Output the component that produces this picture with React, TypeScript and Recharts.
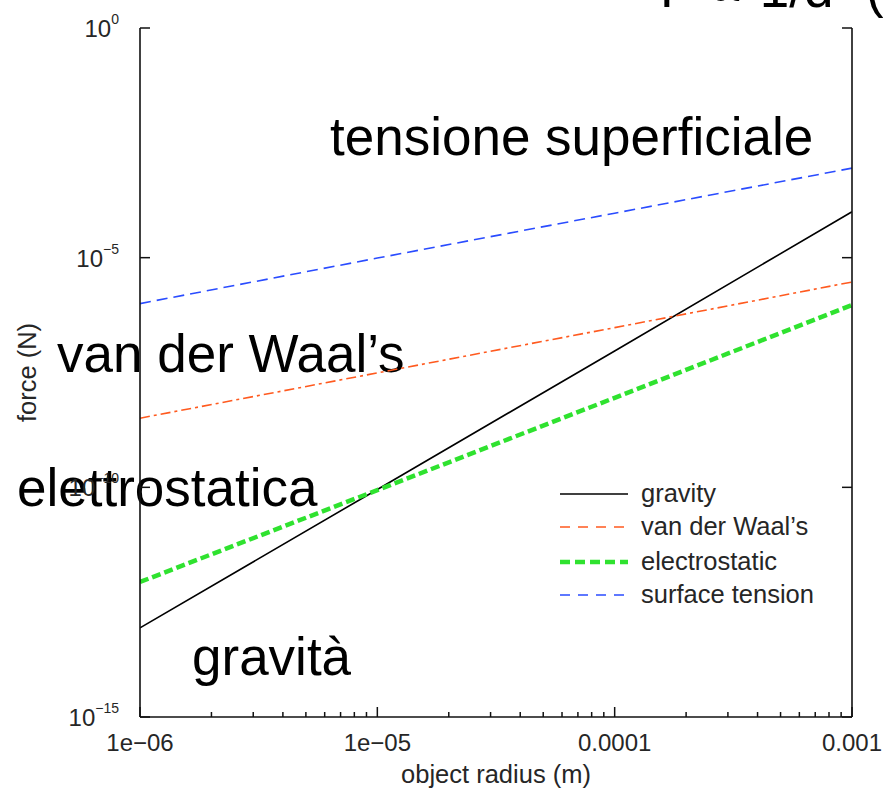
import React from 'react';
import { LineChart, Line, XAxis, YAxis, Legend, Label } from 'recharts';

// ---- data ----
const radius = [1e-6, 1e-5, 1e-4, 1e-3];
const gravity = [8.7e-14, 9.0e-11, 9.3e-8, 1.0e-4];
const vanDerWaals = [3.2e-9, 3.1e-8, 3.0e-7, 2.95e-6];
const electrostatic = [8.7e-13, 8.7e-11, 8.9e-9, 9.3e-7];
const surfaceTension = [1.0e-6, 9.8e-6, 9.3e-5, 8.9e-4];

const seriesKeys = ['gravity', 'vdw', 'electro', 'surface'];
const seriesNames = ['gravity', 'van der Waal\u2019s', 'electrostatic', 'surface tension'];
const seriesColors = ['#000000', '#ff5a1f', '#2fe22f', '#2a4cff'];
const seriesWidths = [1.6, 1.6, 4.5, 1.6];
const seriesDash = ['', '10 4 3 4', '9 4', '11 6'];
const legendDash = ['', '10 8', '10 5', '10 8'];

const xMajorTicks = [1e-6, 1e-5, 1e-4, 1e-3];
const xTickLabels = ['1e\u221206', '1e\u221205', '0.0001', '0.001'];
const xMinorMultipliers = [2, 3, 4, 5, 6, 7, 8, 9];
const yMajorTicks = [1e-15, 1e-10, 1e-5, 1];
const yTickExponents = ['\u221215', '\u221210', '\u22125', '0'];

const overlayTexts = [
  { text: 'tensione superficiale', x: 330, y: 155 },
  { text: 'van der Waal\u2019s', x: 57, y: 372 },
  { text: 'elettrostatica', x: 17, y: 506 },
  { text: 'gravit\u00e0', x: 192, y: 675 },
  { text: 'F \u221d 1/d\u00b2 (', x: 660, y: 7 },
];

const data = radius.map((r, i) => ({
  r,
  gravity: gravity[i],
  vdw: vanDerWaals[i],
  electro: electrostatic[i],
  surface: surfaceTension[i],
}));

const xTicks: number[] = [];
for (let d = 0; d < xMajorTicks.length; d++) {
  xTicks.push(xMajorTicks[d]);
  if (d < xMajorTicks.length - 1) {
    for (const m of xMinorMultipliers) xTicks.push(xMajorTicks[d] * m);
  }
}

const FONT = '"Liberation Sans", Arial, Helvetica, sans-serif';
const SMALL = 24;
const LABEL = 25.5;
const TEXT_COLOR = '#262626';

const majorIndex = (v: number) =>
  xMajorTicks.findIndex((t) => Math.abs(Math.log10(t) - Math.log10(v)) < 1e-6);

const BottomTick = (props: any) => {
  const { x, y, payload } = props;
  const idx = majorIndex(payload.value);
  const len = idx >= 0 ? 10 : 5;
  return (
    <g>
      <line x1={x} y1={y} x2={x} y2={y - len} stroke="#111" strokeWidth={1.5} />
      {idx >= 0 && (
        <text x={x} y={y + 34} textAnchor="middle" fontSize={SMALL} fill={TEXT_COLOR} fontFamily={FONT}>
          {xTickLabels[idx]}
        </text>
      )}
    </g>
  );
};

const TopTick = (props: any) => {
  const { x, y, payload } = props;
  const idx = majorIndex(payload.value);
  const len = idx >= 0 ? 10 : 5;
  return <line x1={x} y1={y} x2={x} y2={y + len} stroke="#111" strokeWidth={1.5} />;
};

const LeftTick = (props: any) => {
  const { x, y, payload } = props;
  const idx = yMajorTicks.findIndex((t) => Math.abs(Math.log10(t) - Math.log10(payload.value)) < 1e-6);
  return (
    <g>
      <line x1={x} y1={y} x2={x + 10} y2={y} stroke="#111" strokeWidth={1.5} />
      <text x={x - 21} y={y + 9} textAnchor="end" fontSize={SMALL} fill={TEXT_COLOR} fontFamily={FONT}>
        <tspan>10</tspan>
        <tspan dy={-13} fontSize={14}>{yTickExponents[idx]}</tspan>
      </text>
    </g>
  );
};

const RightTick = (props: any) => {
  const { x, y } = props;
  return <line x1={x} y1={y} x2={x - 10} y2={y} stroke="#111" strokeWidth={1.5} />;
};

const LegendContent = () => (
  <svg width={300} height={140}>
    {seriesNames.map((name, i) => {
      const cy = 19 + [0, 33, 68, 101][i];
      return (
        <g key={name}>
          <line
            x1={10}
            y1={cy}
            x2={78}
            y2={cy}
            stroke={seriesColors[i]}
            strokeWidth={seriesWidths[i]}
            strokeDasharray={legendDash[i] || undefined}
          />
          <text x={91} y={cy + 8} fontSize={LABEL} fill={TEXT_COLOR} fontFamily={FONT}>
            {name}
          </text>
        </g>
      );
    })}
  </svg>
);

export default function App() {
  return (
    <div style={{ position: 'absolute', left: 0, top: 0, width: 883, height: 792, background: '#fff' }}>
      <svg
        width={883}
        height={792}
        style={{ position: 'absolute', left: 0, top: 0 }}
      >
        {overlayTexts.map((t) => (
          <text key={t.text} x={t.x} y={t.y} fontSize={53} fontFamily={FONT} fill="#000">
            {t.text}
          </text>
        ))}
      </svg>
      <div style={{ position: 'absolute', left: 0, top: 0 }}>
        <LineChart width={883} height={792} data={data} margin={{ top: 28, right: 0, bottom: 0, left: 0 }}>
          <XAxis
            dataKey="r"
            type="number"
            scale="log"
            domain={[1e-6, 1e-3]}
            allowDataOverflow
            ticks={xTicks}
            interval={0}
            tick={<BottomTick />}
            tickLine={false}
            tickSize={0}
            tickMargin={0}
            height={75}
            axisLine={{ stroke: '#111', strokeWidth: 1.6 }}
          >
            <Label
              content={(p: any) => {
                const vb = p.viewBox || { x: 140, y: 717, width: 712 };
                return (
                  <text x={vb.x + vb.width / 2} y={vb.y + 66} textAnchor="middle" fontSize={LABEL} fill={TEXT_COLOR} fontFamily={FONT}>
                    object radius (m)
                  </text>
                );
              }}
            />
          </XAxis>
          <XAxis
            xAxisId="top"
            orientation="top"
            dataKey="r"
            type="number"
            scale="log"
            domain={[1e-6, 1e-3]}
            allowDataOverflow
            ticks={xTicks}
            interval={0}
            tick={<TopTick />}
            tickLine={false}
            tickSize={0}
            tickMargin={0}
            height={0}
            axisLine={{ stroke: '#111', strokeWidth: 1.6 }}
          />
          <YAxis
            type="number"
            scale="log"
            domain={[1e-15, 1]}
            allowDataOverflow
            ticks={yMajorTicks}
            interval={0}
            tick={<LeftTick />}
            tickLine={false}
            tickSize={0}
            tickMargin={0}
            width={140}
            axisLine={{ stroke: '#111', strokeWidth: 1.6 }}
          >
            <Label
              content={(p: any) => {
                const vb = p.viewBox || { x: 0, y: 28, height: 689 };
                const cx = 36;
                const cy = vb.y + vb.height / 2;
                return (
                  <text
                    x={cx}
                    y={cy}
                    textAnchor="middle"
                    fontSize={LABEL}
                    fill={TEXT_COLOR}
                    fontFamily={FONT}
                    transform={`rotate(-90 ${cx} ${cy})`}
                  >
                    force (N)
                  </text>
                );
              }}
            />
          </YAxis>
          <YAxis
            yAxisId="right"
            orientation="right"
            type="number"
            scale="log"
            domain={[1e-15, 1]}
            allowDataOverflow
            ticks={yMajorTicks}
            interval={0}
            tick={<RightTick />}
            tickLine={false}
            tickSize={0}
            tickMargin={0}
            width={31}
            axisLine={{ stroke: '#111', strokeWidth: 1.6 }}
          />
          {seriesKeys.map((k, i) => (
            <Line
              key={k}
              dataKey={k}
              name={seriesNames[i]}
              stroke={seriesColors[i]}
              strokeWidth={seriesWidths[i]}
              strokeDasharray={seriesDash[i] || undefined}
              dot={false}
              activeDot={false}
              isAnimationActive={false}
              type="linear"
            />
          ))}
          <Legend
            layout="vertical"
            align="center"
            verticalAlign="middle"
            wrapperStyle={{ position: 'absolute', left: 550, top: 475, width: 300, height: 140 }}
            content={<LegendContent />}
          />
        </LineChart>
      </div>
    </div>
  );
}
